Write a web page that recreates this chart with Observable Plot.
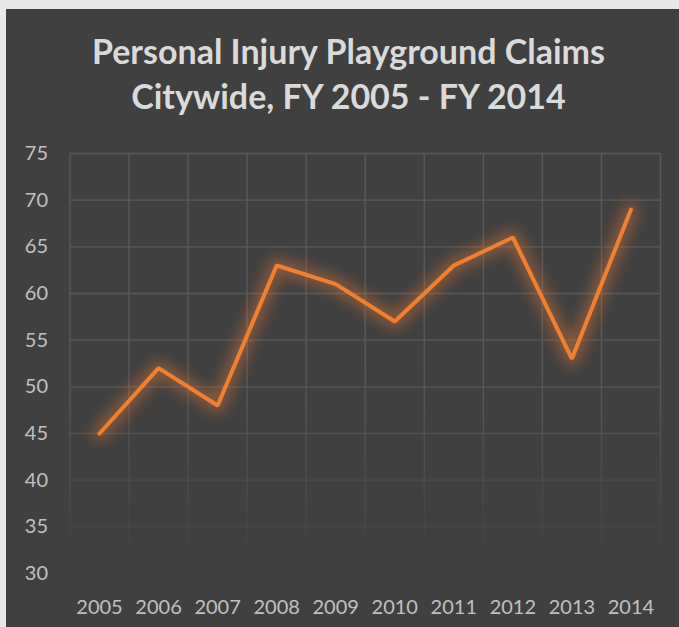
<!DOCTYPE html>
<html>
<head>
<meta charset="utf-8">
<script src="https://cdn.jsdelivr.net/npm/d3@7"></script>
<script src="https://cdn.jsdelivr.net/npm/@observablehq/plot@0.6"></script>
<style>
  html, body { margin: 0; padding: 0; background: #e8e8e8; width: 679px; height: 627px; overflow: hidden; }
  #chart { position: absolute; left: 6px; top: 9px; width: 673px; height: 618px; background: #404040; }
  #title { height: 120px; box-sizing: border-box; padding-top: 19px; padding-left: 12px; text-align: center;
           font-family: Lato, sans-serif; font-weight: bold; font-size: 34px; line-height: 45px; color: #dadada; }
  svg { display: block; }
</style>
</head>
<body>
<div id="chart">
  <div id="title">Personal Injury Playground Claims<br>Citywide, FY 2005 - FY 2014</div>
</div>
<script>
const years = [2005, 2006, 2007, 2008, 2009, 2010, 2011, 2012, 2013, 2014];
const claims = [45, 52, 48, 63, 61, 57, 63, 66, 53, 69];
const yTicks = [30, 35, 40, 45, 50, 55, 60, 65, 70, 75];

const data = years.map((year, i) => ({year, claims: claims[i]}));
const bounds = [...years.map(y => y - 0.5), years[years.length - 1] + 0.5];
const yMin = yTicks[0], yMax = yTicks[yTicks.length - 1];

const plot = Plot.plot({
  width: 673,
  height: 498,
  marginTop: 24,
  marginBottom: 54,
  marginLeft: 63.5,
  marginRight: 19,
  style: {background: "transparent", color: "#bfbfbf", fontFamily: "Lato, sans-serif", fontSize: "20px"},
  x: {type: "linear", domain: [bounds[0], bounds[bounds.length - 1]], label: null},
  y: {domain: [yMin, yMax], label: null},
  marks: [
    Plot.ruleY(yTicks, {stroke: "#585858", strokeWidth: 1.4}),
    Plot.ruleX(bounds, {y1: yMin, y2: yMax, stroke: "#585858", strokeWidth: 1.4}),
    Plot.axisX({ticks: years, tickFormat: d => `${d}`, tickSize: 0, tickPadding: 26, fill: "#c0c0c0", label: null}),
    Plot.axisY({ticks: yTicks, tickSize: 0, tickPadding: 22, fill: "#c0c0c0", label: null}),
    Plot.line(data, {x: "year", y: "claims", stroke: "#ED7D31", strokeWidth: 14, strokeOpacity: 0.45}),
    Plot.line(data, {x: "year", y: "claims", stroke: "#F0802F", strokeWidth: 4, strokeLinejoin: "miter", strokeLinecap: "round"})
  ]
});

const svg = d3.select(plot);
const ys = plot.scale("y");
const defs = svg.insert("defs", ":first-child");
const grad = defs.append("linearGradient")
  .attr("id", "gridfade").attr("gradientUnits", "userSpaceOnUse")
  .attr("x1", 0).attr("x2", 0)
  .attr("y1", ys.apply(52)).attr("y2", ys.apply(31));
grad.append("stop").attr("offset", 0).attr("stop-color", "#585858").attr("stop-opacity", 1);
grad.append("stop").attr("offset", 1).attr("stop-color", "#585858").attr("stop-opacity", 0);
const filt = defs.append("filter").attr("id", "glow")
  .attr("x", "-20%").attr("y", "-20%").attr("width", "140%").attr("height", "140%");
filt.append("feGaussianBlur").attr("stdDeviation", 7);

svg.selectAll('g[aria-label="rule"]').attr("stroke", "url(#gridfade)");
const lines = svg.selectAll('g[aria-label="line"]').nodes();
d3.select(lines[0]).attr("filter", "url(#glow)");

document.getElementById("chart").appendChild(plot);
</script>
</body>
</html>
